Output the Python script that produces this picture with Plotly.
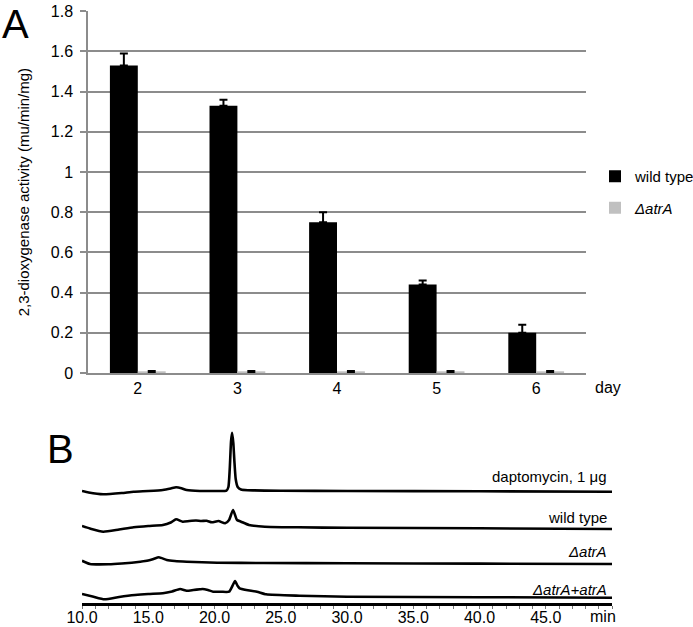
import plotly.graph_objects as go

# ---------------- Panel A data ----------------
days = ["2", "3", "4", "5", "6"]
wild_type = [1.53, 1.33, 0.75, 0.44, 0.20]
wild_type_err = [0.06, 0.03, 0.05, 0.02, 0.04]
delta_atrA = [0.004, 0.004, 0.004, 0.004, 0.004]
delta_atrA_err = [0.006, 0.006, 0.006, 0.006, 0.006]
y_ticks = [0, 0.2, 0.4, 0.6, 0.8, 1.0, 1.2, 1.4, 1.6, 1.8]
y_tick_labels = ["0", "0.2", "0.4", "0.6", "0.8", "1", "1.2", "1.4", "1.6", "1.8"]

# ---------------- Panel B data (HPLC traces, signal in arbitrary units) -------
time_ticks = list(range(10, 51))
time_tick_labels = [f"{v:.1f}" if v % 5 == 0 and v < 50 else "" for v in time_ticks]

dapto_t = [10.0, 10.5, 11.6, 13.0, 13.9, 15.0, 16.1, 16.7, 17.1, 17.5, 17.9, 18.9,
           20.0, 20.9, 21.05, 21.15, 21.25, 21.33, 21.42, 21.5, 21.6, 21.75, 22.0,
           22.5, 25.0, 30.0, 40.0, 50.0]
dapto_s = [0, -1.5, -3.3, -2, -0.7, 0, 1, 2.5, 3.7, 2.8, 1, 0,
           0, 0.3, 4, 22, 50, 58.3, 48, 30, 12, 4, 1.5,
           0.8, 0.3, 0, -0.3, -0.7]

wt_t = [10.0, 10.6, 11.6, 12.8, 13.9, 15.0, 16.1, 16.7, 17.1, 17.6, 18.1, 18.6,
        19.0, 19.4, 19.8, 20.3, 20.8, 21.1, 21.4, 21.7, 22.0, 22.6, 23.8, 26.3,
        30.0, 40.0, 50.0]
wt_s = [0, -2.5, -5.7, -3.5, -1.3, 0, 1, 3.5, 6.7, 4.3, 5.0, 5.5,
        5.0, 5.3, 3.7, 5.0, 2.7, 6, 16, 6, 4.3, 1, -0.7, -1.3,
        -1.8, -2.3, -3]

atr_t = [10.0, 10.3, 10.6, 12.0, 13.0, 14.4, 15.0, 15.4, 15.8, 16.4, 17.0, 17.9,
         20.2, 23.7, 30.0, 40.0, 50.0]
atr_s = [2.3, 0.5, -1, -1.3, -0.5, 1.3, 2.5, 4, 5.7, 3, 2, 1.3,
         0.3, 0, -0.3, -0.6, -1]

comp_t = [10.0, 10.8, 11.7, 12.8, 14.0, 15.0, 16.1, 16.8, 17.4, 17.9, 18.4, 18.9,
          19.1, 19.5, 19.9, 20.5, 21.1, 21.35, 21.55, 21.75, 21.9, 22.4, 23.2, 23.9,
          26.4, 30.0, 40.0, 50.0]
comp_s = [0, -2.5, -5.3, -3, -1, 0, 0.7, 2.5, 5, 3.3, 4, 4.7,
          5, 4, 2.3, 2.3, 2.3, 8, 13, 8, 5.7, 4, 2.3, -0.3,
          -1.7, -2.7, -3.2, -3.7]

trace_labels = ["daptomycin, 1 μg", "wild type", "<i>ΔatrA</i>", "<i>ΔatrA+atrA</i>"]

# ---------------- layout constants ----------------
W, H = 693, 627
FONT = "Liberation Sans, Arial, sans-serif"
GRID = "#8c8c8c"
offsets = [112, 77, 40, 9]          # vertical stacking of the traces in panel B
label_y_px = [476, 517, 551, 589]   # label centres (pixels from top)


def py(px):
    return 1 - px / H


def pxx(px):
    return px / W


fig = go.Figure()

# Panel A bars
fig.add_trace(go.Bar(
    x=days, y=wild_type, name="wild type", marker=dict(color="black", line=dict(width=0)),
    error_y=dict(type="data", array=wild_type_err, arrayminus=[0] * len(days),
                 symmetric=False, color="black", thickness=2, width=4),
    xaxis="x", yaxis="y", legendgroup="a",
))
fig.add_trace(go.Bar(
    x=days, y=delta_atrA, name="<i>ΔatrA</i>", marker=dict(color="#c0c0c0", line=dict(width=0)),
    error_y=dict(type="data", array=delta_atrA_err, arrayminus=[0] * len(days),
                 symmetric=False, color="black", thickness=2, width=4),
    xaxis="x", yaxis="y", legendgroup="b",
))

# Panel B traces
for t, s, off in zip([dapto_t, wt_t, atr_t, comp_t], [dapto_s, wt_s, atr_s, comp_s], offsets):
    fig.add_trace(go.Scatter(
        x=t, y=[v + off for v in s], mode="lines",
        line=dict(color="black", width=2.6, shape="spline", smoothing=0.5),
        xaxis="x2", yaxis="y2", showlegend=False, hoverinfo="skip",
    ))

fig.update_layout(
    width=W, height=H, margin=dict(l=0, r=0, t=0, b=0, autoexpand=False),
    paper_bgcolor="white", plot_bgcolor="white",
    font=dict(family=FONT, color="black", size=16),
    barmode="group", bargap=0.44, bargroupgap=0,
    xaxis=dict(domain=[pxx(88), pxx(586)], anchor="y", type="category",
               showline=True, linecolor=GRID, linewidth=1.5, ticks="",
               showgrid=False, tickfont=dict(size=16), ticklabelstandoff=0,
               automargin=False),
    yaxis=dict(domain=[py(373), py(11.3)], anchor="x", range=[0, 1.8],
               tickvals=y_ticks, ticktext=y_tick_labels,
               showgrid=True, gridcolor=GRID, gridwidth=1.5,
               showline=True, linecolor=GRID, linewidth=1.5,
               ticks="outside", ticklen=6, tickcolor=GRID, tickwidth=1.5,
               zeroline=False, tickfont=dict(size=16), ticklabelstandoff=4,
               automargin=False,
               title=dict(text="2,3-dioxygenase activity (mu/min/mg)",
                          font=dict(size=15), standoff=18)),
    xaxis2=dict(domain=[pxx(82), pxx(612)], anchor="y2", range=[10, 50],
                showline=True, linecolor="black", linewidth=2.5,
                ticks="outside", ticklen=3, tickcolor="#777", tickwidth=1,
                tickvals=time_ticks, ticktext=time_tick_labels,
                showgrid=False, zeroline=False, tickfont=dict(size=16),
                ticklabelstandoff=-5, automargin=False),
    yaxis2=dict(domain=[py(603), py(423)], anchor="x2", range=[0, 180],
                visible=False, fixedrange=True, automargin=False),
    legend=dict(x=pxx(595), y=py(160), xanchor="left", yanchor="top",
                traceorder="grouped", tracegroupgap=9,
                font=dict(size=15), bgcolor="rgba(0,0,0,0)",
                itemwidth=30),
    showlegend=True,
)

ann = [
    dict(text="A", x=pxx(0), y=py(0), xanchor="left", yanchor="top",
         font=dict(size=40)),
    dict(text="B", x=pxx(45), y=py(425), xanchor="left", yanchor="top",
         font=dict(size=40)),
    dict(text="day", x=pxx(593), y=py(387), xanchor="left", yanchor="middle",
         font=dict(size=16)),
    dict(text="min", x=pxx(603), y=py(616), xanchor="center", yanchor="middle",
         font=dict(size=16)),
]
for lab, ypx in zip(trace_labels, label_y_px):
    ann.append(dict(text=lab, x=pxx(609), y=py(ypx), xanchor="right", yanchor="middle",
                    font=dict(size=15)))
for a in ann:
    a.update(xref="paper", yref="paper", showarrow=False)
fig.update_layout(annotations=ann)

fig.write_html("out.html", config={"displayModeBar": False},
               post_script="document.body.style.margin='0';document.body.style.overflow='hidden';")
